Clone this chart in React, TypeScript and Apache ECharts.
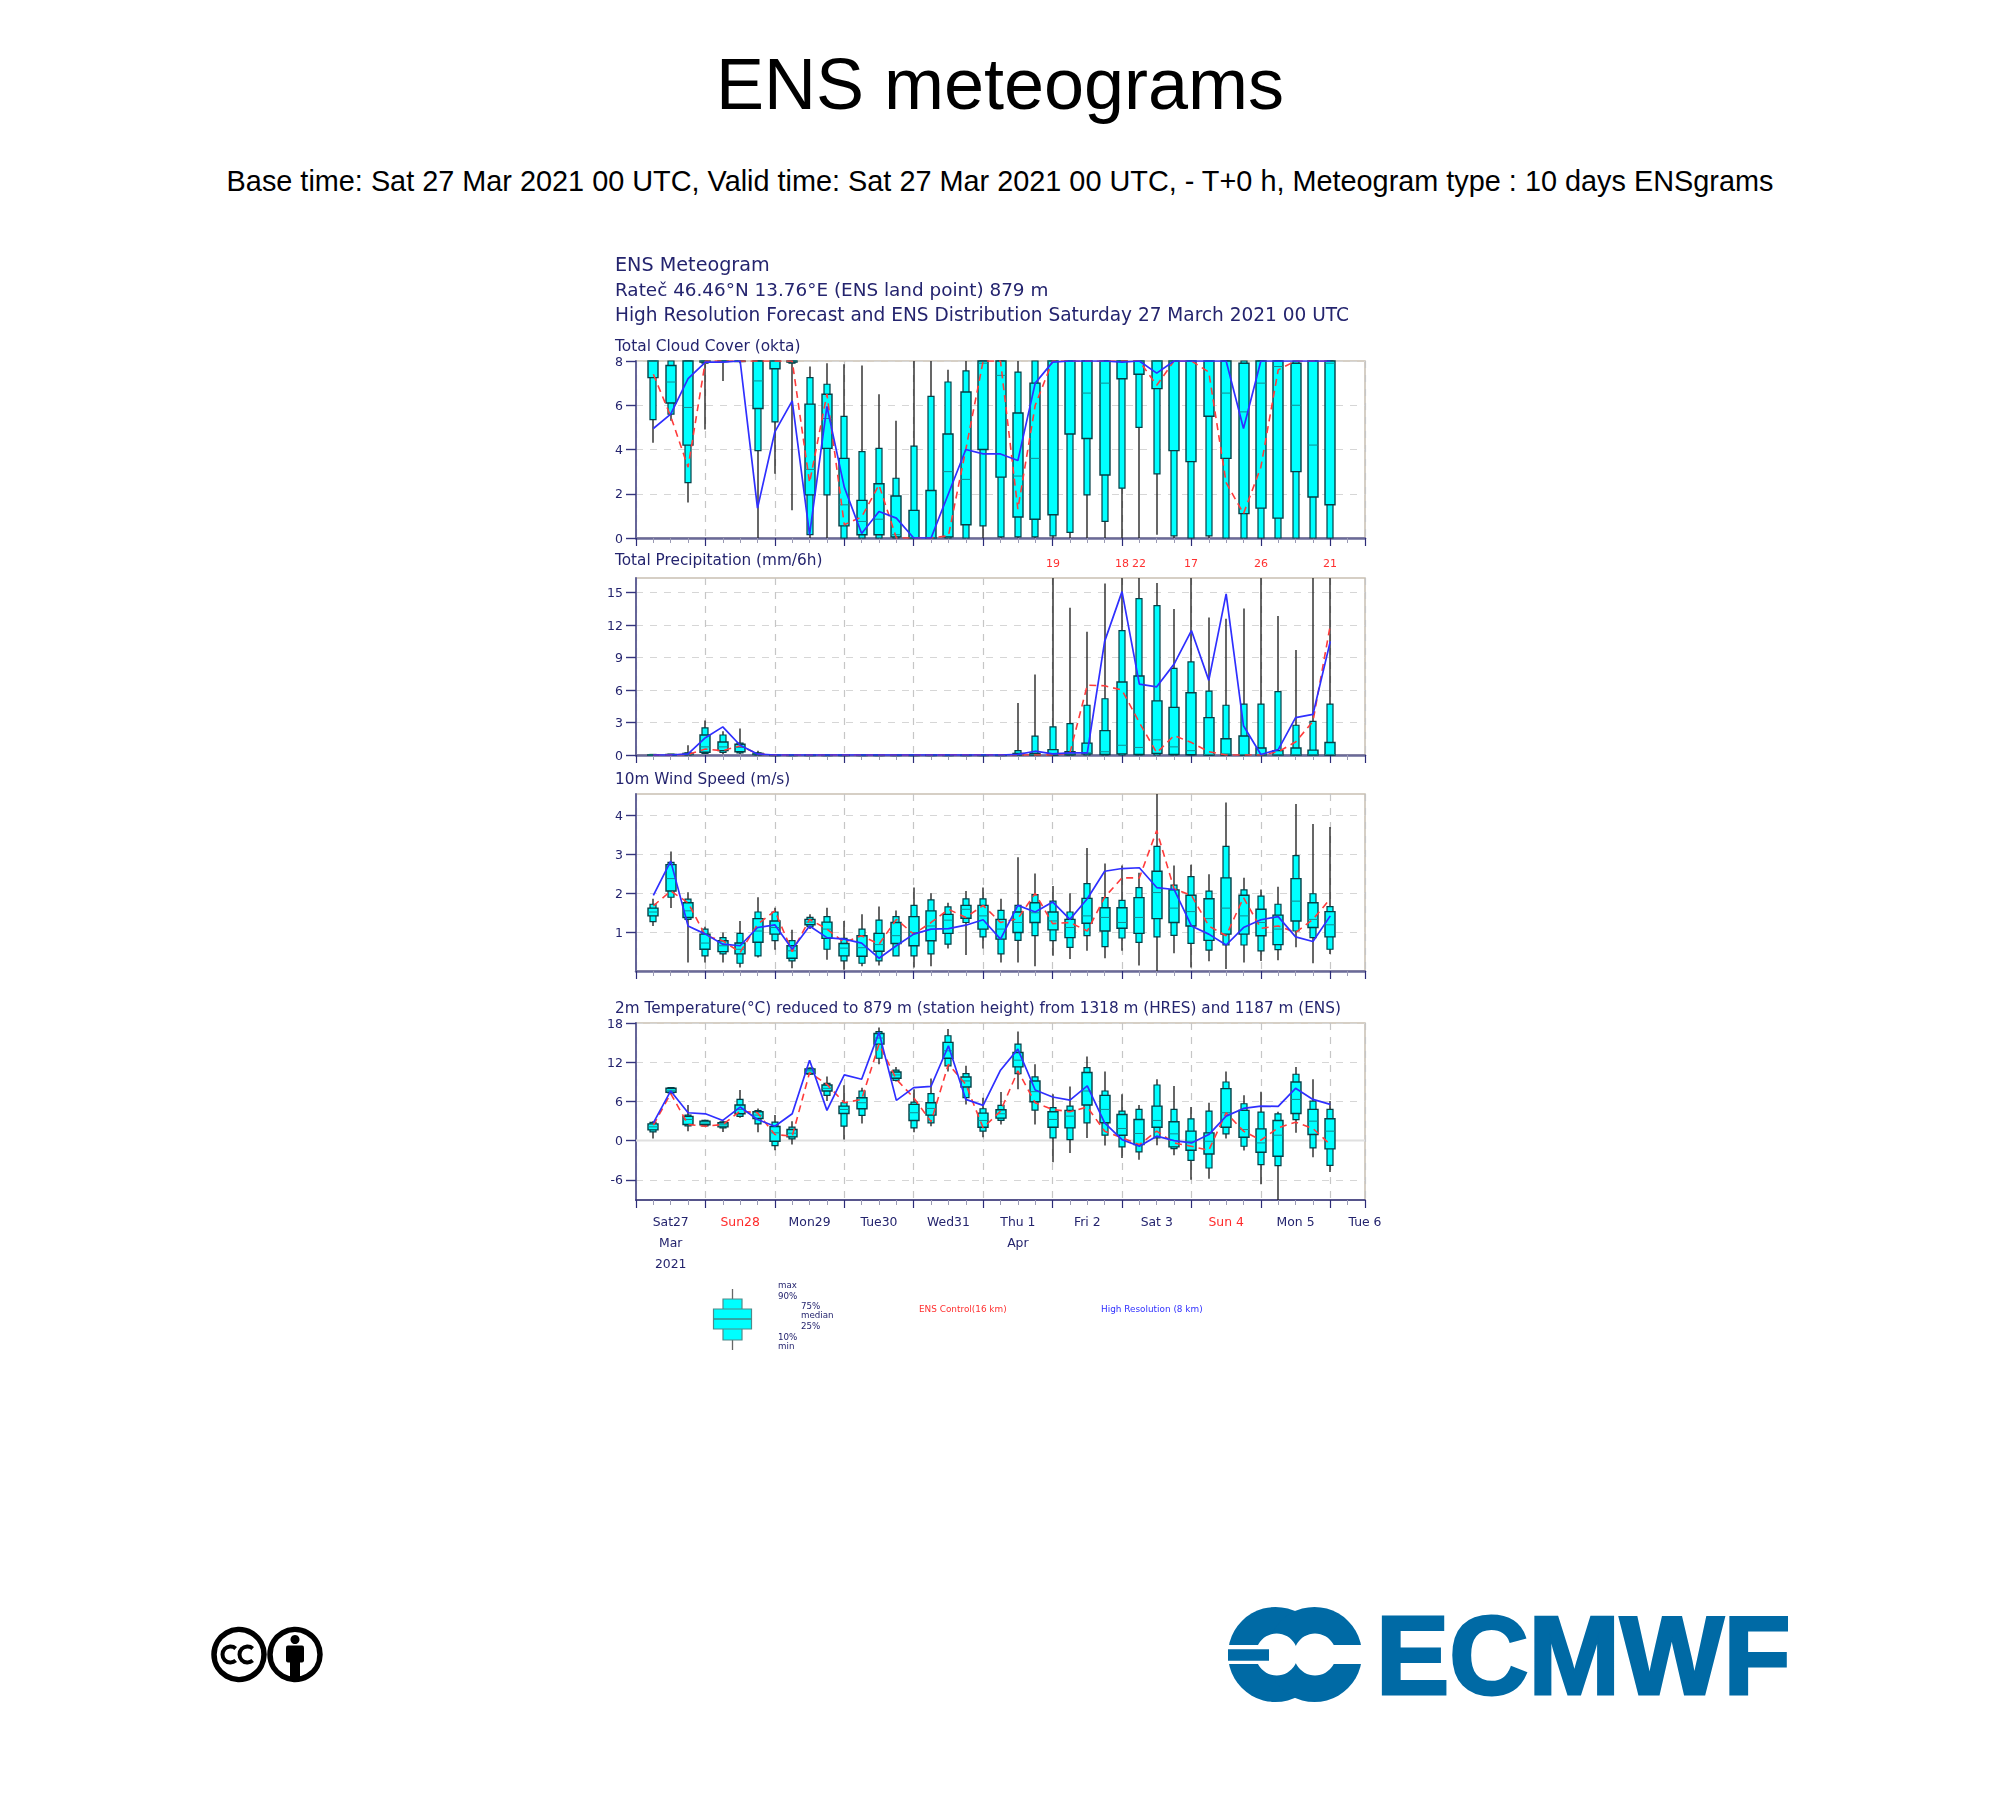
import React, { useEffect, useRef } from "react";
import * as echarts from "echarts";

// Each box: [min, p10, p25, median, p75, p90, max]
const forecastHours = [6,12,18,24,30,36,42,48,54,60,66,72,78,84,90,96,102,108,114,120,126,132,138,144,150,156,162,168,174,180,186,192,198,204,210,216,222,228,234,240];

const cloudBoxes = [
[4.3,5.35,7.25,8,8,8,8],[5.3,5.6,6.1,7.05,7.8,8,8],[1.6,2.5,4.2,5.9,8,8,8],[4.9,7.9,7.95,8,8,8,8],[7.1,8,8,8,8,8,8],[7.9,8,8,8,8,8,8],[0,3.95,5.85,7.1,8,8,8],[2.9,5.25,7.65,8,8,8,8],[1.25,7.9,7.95,8,8,8,8],
[0,0.15,1.95,3.1,6.05,7.25,7.75],[0,1.95,4.05,5.4,6.5,6.95,7.9],[0,0,0.55,1.5,3.6,5.5,7.85],[0,0,0.15,0.75,1.7,3.9,7.8],[0,0,0.15,0.85,2.45,4.05,6.5],[0,0,0.05,0.15,1.9,2.7,5.3],[0,0,0,0,1.25,4.15,8],[0,0,0,0,2.15,6.4,8],[0,0,0.05,3,4.7,7.05,7.6],[0,0,0.6,2.65,6.6,7.55,8],[0,0.55,4,7.9,8,8,8],
[0,0.05,2.75,7.35,8,8,8],[0,0.05,0.95,2.8,5.65,7.5,8],[0,0.05,0.85,3.6,7,8,8],[0,0.1,1.05,8,8,8,8],[0,0.25,4.7,8,8,8,8],[0,1.95,4.5,6.55,8,8,8],[0,0.75,2.85,7,8,8,8],[0,2.25,7.2,8,8,8,8],[0,5,7.4,8,8,8,8],[0.15,2.9,6.75,8,8,8,8],
[0,0.1,3.95,8,8,8,8],[0,0,3.45,8,8,8,8],[0,0.1,5.5,8,8,8,8],[0,0,3.6,6.55,8,8,8],[0,0,1.1,5.7,7.9,8,8],[0,0,1.35,7,8,8,8],[0,0,0.9,7.75,8,8,8],[0,0,3,6,7.9,8,8],[0,0,1.85,4.2,8,8,8],[0,0,1.5,7.9,8,8,8],
];
const cloudHres = [4.95,5.6,7.2,7.95,7.95,8,1.35,4.8,6.2,0.15,5.95,2.3,0.2,1.2,0.9,0,0,2,4,3.8,3.8,3.5,7,7.95,8,8,8,7.95,8,7.45,8,8,8,8,4.95,8,8,8,8,8];
const cloudControl = [7.4,5.5,3.2,8,8,8,8,8,8,2.5,6.5,0.6,0.95,2.4,0,0,0,0.1,4,8,8,1.3,6,8,8,8,8,8,8,6.9,8,8,7.5,2.5,1.1,3.2,7.6,8,8,8];

const precipBoxes = [
[0,0,0,0,0.02,0.05,0.05],[0,0,0,0.02,0.05,0.08,0.1],[0,0.02,0.05,0.08,0.15,0.2,0.9],[0.1,0.15,0.25,0.75,1.85,2.5,3.2],[0.1,0.25,0.4,0.75,1.2,1.85,2.2],[0.1,0.2,0.3,0.7,1,1.1,2.45],[0,0.02,0.05,0.1,0.15,0.2,0.4],[0,0,0,0,0,0,0],[0,0,0,0,0,0,0],[0,0,0,0,0,0,0],[0,0,0,0,0,0,0],[0,0,0,0,0,0,0],[0,0,0,0,0,0,0],[0,0,0,0,0,0,0],[0,0,0,0,0,0,0],[0,0,0,0,0,0,0],[0,0,0,0,0,0,0],[0,0,0,0,0,0,0],[0,0,0,0,0,0,0],[0,0,0,0,0,0,0],[0,0,0,0,0,0,0],
[0,0,0,0.02,0.15,0.4,4.8],[0,0,0,0.02,0.15,1.75,7.45],[0,0,0,0.1,0.5,2.6,19],[0,0,0.02,0.1,0.3,2.9,13.6],[0,0,0.1,0.2,1.1,4.6,11.4],[0,0,0.05,0.3,2.25,5.2,15.85],[0,0,0.1,0.9,6.75,11.5,18],[0,0,0.05,0.7,7.3,14.45,22],[0,0,0.15,1.4,5,13.8,15.9],[0,0,0.05,0.75,4.4,8,13.5],[0,0,0.02,0.4,5.75,8.6,17],[0,0,0,0.05,3.45,5.9,12.7],[0,0,0,0.1,1.5,4.6,12.6],[0,0,0,0.05,1.75,4.7,13.55],[0,0,0,0.02,0.65,4.7,26],[0,0,0,0.02,0.4,5.85,12.85],[0,0,0,0.02,0.65,2.75,9.7],[0,0,0,0.02,0.45,3.1,16.4],[0,0,0,0.05,1.15,4.7,21],
];
const precipHres = [0,0,0.1,1.6,2.6,0.9,0.1,0,0,0,0,0,0,0,0,0,0,0,0,0,0,0.05,0.35,0.1,0.2,0.2,10.5,15.1,6.55,6.3,8.4,11.5,6.9,14.9,2.7,0.05,0.5,3.45,3.75,10.5];
const precipControl = [0,0,0.05,0.55,0.4,0.85,0.1,0,0,0,0,0,0,0,0,0,0,0.02,0.02,0.02,0.02,0,0,0,0.2,6.45,6.4,6,3,0.2,1.8,1.15,0.3,0,0,0,0.3,1.2,3.1,12];

const windBoxes = [
[1.16,1.27,1.42,1.52,1.62,1.72,1.86],[1.62,1.9,2.06,2.38,2.74,2.8,3.08],[0.22,1.33,1.38,1.55,1.76,1.85,2.03],[0.22,0.39,0.56,0.72,0.95,1.08,1.14],[0.22,0.44,0.5,0.65,0.78,0.86,0.99],[0.09,0.2,0.44,0.56,0.72,0.97,1.29],[0.35,0.39,0.74,1.03,1.35,1.52,1.9],[0.55,0.78,0.95,1.12,1.29,1.52,1.63],[0.07,0.26,0.33,0.52,0.65,0.78,1.06],[1.08,1.14,1.19,1.26,1.33,1.38,1.46],
[0.29,0.56,0.84,1.08,1.26,1.4,1.63],[0.03,0.26,0.39,0.59,0.71,0.84,1.29],[0.12,0.2,0.38,0.6,0.91,1.08,1.46],[0.14,0.26,0.51,0.68,0.97,1.31,1.66],[0.39,0.39,0.71,0.91,1.25,1.4,1.56],[0.09,0.39,0.65,0.99,1.4,1.69,2.15],[0.12,0.44,0.78,1.16,1.55,1.83,2],[0.58,0.69,0.97,1.31,1.46,1.65,1.76],[0.41,1.25,1.36,1.59,1.69,1.86,2.06],[0.58,0.88,1.08,1.42,1.69,1.86,2.15],
[0.22,0.44,0.82,1.08,1.33,1.56,1.86],[0.22,0.79,0.99,1.25,1.52,1.69,2.93],[0.12,0.91,1.25,1.5,1.76,1.97,2.51],[0.39,0.78,1.06,1.29,1.52,1.8,2.19],[0.31,0.61,0.86,1.12,1.33,1.52,2],[0.52,0.91,1.23,1.42,1.87,2.25,3.17],[0.33,0.63,1.03,1.38,1.63,1.89,2.77],[0.52,0.85,1.1,1.25,1.63,1.82,2.72],[0.14,0.74,0.97,1.38,1.89,2.15,2.53],[0,0.88,1.35,2.02,2.57,3.21,4.56],
[0.46,0.92,1.25,1.62,2.09,2.21,2.72],[0.09,0.71,1.16,1.53,1.95,2.43,2.74],[0.25,0.54,0.79,1.35,1.86,2.06,2.49],[0.05,0.67,0.95,1.62,2.4,3.21,4.34],[0.22,0.67,0.95,1.42,1.95,2.09,2.4],[0.26,0.52,0.91,1.25,1.59,1.93,2.1],[0.28,0.55,0.68,1.08,1.44,1.72,2.17],[0.61,1.03,1.29,1.8,2.38,2.97,4.3],[0.2,0.86,1.12,1.33,1.76,1.99,3.79],[0.44,0.56,0.88,1.19,1.53,1.66,3.71],
];
const windHres = [1.95,2.83,1.16,0.95,0.69,0.65,1.12,1.19,0.56,1.16,0.86,0.82,0.72,0.33,0.65,0.95,1.08,1.09,1.18,1.32,0.82,1.69,1.52,1.78,1.33,1.86,2.57,2.64,2.66,2.15,2.1,1.16,0.95,0.67,1.12,1.32,1.4,0.88,0.76,1.42];
const windControl = [1.68,2.06,1.76,0.91,0.78,0.48,1.2,1.55,0.5,1.33,1.08,0.74,0.91,0.69,1.33,0.95,1.25,1.59,1.38,1.69,1.25,1.35,2,1.22,1.25,1.03,1.9,2.4,2.4,3.62,2.12,1.95,1.16,0.91,1.89,1.1,1.16,0.99,1.33,1.86];

const tempBoxes = [
[0.31,1.33,1.64,2.1,2.56,2.8,2.97],[7.08,7.3,7.4,7.7,8,8.1,8.2],[1.44,2.26,2.46,3.23,3.7,3.9,5.44],[2.15,2.26,2.41,2.67,2.97,3.08,3.18],[1.33,1.95,2.1,2.41,2.72,2.87,3.08],[3.5,3.7,4.1,4.77,5.44,6.3,7.74],[1.28,2.56,3.38,3.9,4.41,4.6,4.9],[-1.49,-0.77,-0.1,1.18,2.15,2.82,3.9],[-0.62,0.26,0.56,1.13,1.69,2.05,2.97],[10.05,10.15,10.26,10.67,10.97,11.08,11.18],
[6.05,6.92,7.59,8,8.51,8.77,9.79],[0.15,2.2,4.15,4.77,5.28,5.79,8.46],[2.62,3.85,4.87,5.79,6.56,7.59,8.1],[11.7,12.6,14.77,15.7,16.4,16.67,17.3],[9.03,9.23,9.54,10.05,10.5,10.77,11.28],[1.28,1.95,3.08,4.26,5.54,5.9,7.85],[2.2,2.72,3.9,4.92,5.79,7.18,9.49],[10.56,11.44,12.6,13.74,15.03,16.05,17.08],[5.54,6.56,8.2,9.13,9.74,10.26,11.44],[0.51,1.44,2.05,3.08,4.2,4.87,6.56],
[2.46,3.08,3.44,4.1,4.72,5.38,7.44],[7.85,10.26,11.28,12.31,13.49,14.77,16.7],[2.46,4.67,5.95,7.49,9.13,9.74,11.7],[-3.33,0.41,2.05,3.23,4.41,5.03,7.08],[-1.9,0.15,1.95,3.74,4.62,5.28,8.26],[0.41,2.72,5.44,7.59,10.41,11.18,12.87],[-0.77,0.82,2.72,4.77,6.92,7.59,10.56],[-2.67,-0.97,0.82,1.85,4,4.51,7.08],[-2.92,-1.74,-0.62,1.08,3.23,4.77,5.44],[-0.72,0.41,2.05,3.08,5.28,8.51,9.38],
[-2.26,-1.23,-0.97,1.03,2.87,4.77,8.36],[-6,-3.03,-1.49,-0.1,1.44,3.33,5.13],[-5.85,-4.2,-2.05,-0.1,1.18,4.51,5.79],[0.31,1.03,2.05,4.26,7.95,8.97,10.56],[-1.54,-0.87,0.51,1.69,4.62,5.64,6.92],[-6.67,-3.69,-1.79,-0.36,1.79,4.36,7.49],[-9.1,-3.85,-2.41,0.82,3.08,4.1,4.4],[1.18,3.2,4.15,6.3,8.97,10.15,11.28],[-2.56,-1.13,0.92,2.97,4.77,6.05,9.38],[-4.82,-3.8,-1.28,1.44,3.33,4.77,6.05],
];
const tempHres = [2.72,7.6,4.26,4.1,3.08,5.13,3.23,2.2,4.1,12.31,4.62,10.05,9.38,16.56,6.15,8.1,8.31,14.51,6.3,5.38,10.77,14,7.74,6.67,6.2,8.36,2.72,0.15,-0.87,0.67,0,-0.36,0.92,3.74,4.92,5.28,5.23,8,6.3,5.54];
const tempControl = [2.36,7.2,2.46,2.2,2.46,4.5,4.26,0.92,0.67,10.41,8.6,5.79,6.3,14.77,9.38,6.56,2.87,11.7,8.6,1.95,4.5,10.67,5.79,4.77,4.41,5.13,1.44,0.41,-0.62,1.44,-0.36,-0.87,-1.49,4.26,1.44,0.05,1.95,2.82,1.85,-0.62];
const zeroLine = [[0, 0], [252, 0]];

const cloudTicks = [0, 2, 4, 6, 8];
const precipTicks = [0, 3, 6, 9, 12, 15];
const windTicks = [1, 2, 3, 4];
const tempTicks = [-6, 0, 6, 12, 18];

const dayLabels = ["Sat27", "Sun28", "Mon29", "Tue30", "Wed31", "Thu 1", "Fri 2", "Sat 3", "Sun 4", "Mon 5", "Tue 6"];
const subLabels: Record<string, string[]> = { Sat27: ["Mar", "2021"], "Thu 1": ["Apr"] };
const sundayLabels = ["Sun28", "Sun 4"];
const panelTitles = ["Total Cloud Cover (okta)", "Total Precipitation (mm/6h)", "10m Wind Speed (m/s)", "2m Temperature(°C) reduced to 879 m (station height) from 1318 m (HRES) and 1187 m (ENS)"];
const headerLines = ["ENS Meteogram", "Rateč 46.46°N 13.76°E (ENS land point) 879 m", "High Resolution Forecast and ENS Distribution Saturday 27 March 2021 00 UTC"];

const NAVY = "#24246e";
const DV = "'DejaVu Sans'";
const LS = "'Liberation Sans'";
const PLEFT = 636;
const PWIDTH = 729;
const LOGO = "#006aa5";

const panels = [
  { top: 361, bottom: 538, min: 0, max: 8, ticks: cloudTicks, boxes: cloudBoxes, hres: cloudHres, ctrl: cloudControl, axisW: 2.5, axisC: "#6a6a98", titleY: 346, titleSize: 15.4 },
  { top: 578, bottom: 755, min: 0, max: 16.36, ticks: precipTicks, boxes: precipBoxes, hres: precipHres, ctrl: precipControl, axisW: 2.5, axisC: "#6a6a98", titleY: 560, titleSize: 15.3 },
  { top: 794, bottom: 971, min: 0, max: 4.56, ticks: windTicks, boxes: windBoxes, hres: windHres, ctrl: windControl, axisW: 2.5, axisC: "#6a6a98", titleY: 779, titleSize: 15.3 },
  { top: 1023, bottom: 1200, min: -9.1, max: 18, ticks: tempTicks, boxes: tempBoxes, hres: tempHres, ctrl: tempControl, axisW: 1.6, axisC: "#2c2c78", titleY: 1008, titleSize: 15.25 },
];

function renderBox(labelCounts: boolean) {
  return (params: any, api: any) => {
    const x = api.value(0);
    const vals = [1, 2, 3, 4, 5, 6, 7].map((i) => api.value(i));
    const cs = params.coordSys;
    const cx = Math.round(api.coord([x, 0])[0]);
    const yOf = (v: number) => Math.max(cs.y, Math.min(cs.y + cs.height, api.coord([x, v])[1]));
    const [mn, p10, p25, med, p75, p90, mx] = vals.map(yOf);
    const dark = "#063f46";
    const children: any[] = [
      { type: "line", shape: { x1: cx, y1: mx, x2: cx, y2: mn }, style: { stroke: "#262626", lineWidth: 1.4 } },
      { type: "rect", shape: { x: cx - 3, y: p90, width: 6, height: Math.max(p10 - p90, 0.5) }, style: { fill: "#00ffff", stroke: dark, lineWidth: 1.2 } },
      { type: "rect", shape: { x: cx - 5, y: p75, width: 10, height: Math.max(p25 - p75, 0.5) }, style: { fill: "#00ffff", stroke: dark, lineWidth: 1.4 } },
      { type: "line", shape: { x1: cx - 5, y1: med, x2: cx + 5, y2: med }, style: { stroke: "#138a90", lineWidth: 1 } },
    ];
    if (labelCounts && api.value(7) >= 17) {
      children.push({ type: "text", style: { text: String(api.value(7)), x: cx, y: cs.y - 15, fill: "#ff3030", font: `11px ${DV}`, align: "center", verticalAlign: "middle" } });
    }
    return { type: "group", children };
  };
}

function txt(text: string, x: number, y: number, size: number, fill = NAVY, family = DV, align = "left") {
  return { type: "text", silent: true, style: { text, x, y, fill, font: `${size}px ${family}`, align, verticalAlign: "middle" } };
}

function meteogramOption() {
  const grid: any[] = [], xAxis: any[] = [], yAxis: any[] = [], series: any[] = [];
  panels.forEach((p, k) => {
    grid.push({ left: PLEFT, width: PWIDTH, top: p.top, height: p.bottom - p.top, show: true, borderColor: "#c9c0b2", borderWidth: 1.5, backgroundColor: "#fff" });
    xAxis.push({
      type: "value", gridIndex: k, min: 0, max: 252, interval: 24,
      axisLine: { show: true, onZero: false, lineStyle: { color: p.axisC, width: p.axisW } },
      axisTick: { show: true, inside: false, length: 8, lineStyle: { color: "#2c2c78", width: 1.2 } },
      minorTick: { show: true, splitNumber: 4, length: 5, lineStyle: { color: "#9a9ab4", width: 1 } },
      axisLabel: { show: false },
      splitLine: { show: true, lineStyle: { color: "#c6c6c6", type: [7, 7], width: 1.2 } },
    });
    yAxis.push({
      type: "value", gridIndex: k, min: p.min, max: p.max,
      axisLine: { show: true, onZero: false, lineStyle: { color: "#5a5a94", width: 1.8 } },
      axisTick: { show: true, length: 10, customValues: p.ticks, lineStyle: { color: "#35357e", width: 1.4 } },
      axisLabel: { show: true, margin: 13, customValues: p.ticks, color: NAVY, fontFamily: DV, fontSize: 12.5 },
      splitLine: { show: true, customValues: p.ticks, lineStyle: { color: "#d6d6d6", type: [7, 7], width: 1.2 } },
    });
    if (k === 3) {
      series.push({ type: "line", xAxisIndex: k, yAxisIndex: k, data: zeroLine, showSymbol: false, silent: true, z: 1, lineStyle: { color: "#e0e0e0", width: 2 } });
    }
    const boxData = p.boxes.map((b, i) => [forecastHours[i], ...b]);
    series.push({ type: "custom", xAxisIndex: k, yAxisIndex: k, z: 2, data: boxData, encode: { x: 0, y: [1, 2, 3, 4, 5, 6, 7] }, renderItem: renderBox(k === 1) });
    series.push({ type: "line", xAxisIndex: k, yAxisIndex: k, z: 3, showSymbol: false, data: p.ctrl.map((v, i) => [forecastHours[i], v]), lineStyle: { color: "#ff3b3b", width: 1.6, type: [7, 5] } });
    series.push({ type: "line", xAxisIndex: k, yAxisIndex: k, z: 4, showSymbol: false, data: p.hres.map((v, i) => [forecastHours[i], v]), lineStyle: { color: "#2f2fff", width: 1.7 } });
  });
  xAxis.push({
    type: "value", gridIndex: 3, min: 0, max: 252, interval: 12, position: "bottom",
    axisLine: { show: false }, axisTick: { show: false }, splitLine: { show: false },
    axisLabel: {
      show: true, margin: 11, interval: 0, fontFamily: DV,
      formatter: (v: number) => {
        if (v % 24 !== 12) return "";
        const day = dayLabels[(v - 12) / 24];
        const style = sundayLabels.includes(day) ? "r" : "n";
        return [`{${style}|${day}}`, ...(subLabels[day] || []).map((s) => `{n|${s}}`)].join("\n");
      },
      rich: {
        n: { color: NAVY, fontFamily: DV, fontSize: 12.4, lineHeight: 21 },
        r: { color: "#ff2b2b", fontFamily: DV, fontSize: 12.4, lineHeight: 21 },
      },
    },
  });

  const gfx: any[] = [];
  const headerSizes = [19.2, 18.4, 18.55];
  headerLines.forEach((t, i) => gfx.push(txt(t, 615, 264.5 + i * 25.2, headerSizes[i])));
  panelTitles.forEach((t, i) => gfx.push(txt(t, 615, panels[i].titleY, panels[i].titleSize)));
  // legend glyph
  const lx = 732.5;
  gfx.push({ type: "line", shape: { x1: lx, y1: 1289, x2: lx, y2: 1350 }, style: { stroke: "#666", lineWidth: 1.3 } });
  gfx.push({ type: "rect", shape: { x: lx - 9.5, y: 1299, width: 19, height: 41 }, style: { fill: "#00ffff", stroke: "#508a8a", lineWidth: 1.2 } });
  gfx.push({ type: "rect", shape: { x: lx - 19, y: 1309, width: 38, height: 20 }, style: { fill: "#00ffff", stroke: "#508a8a", lineWidth: 1.2 } });
  gfx.push({ type: "line", shape: { x1: lx - 19, y1: 1319, x2: lx + 19, y2: 1319 }, style: { stroke: "#3e8a8a", lineWidth: 1.6 } });
  [["max", 778, 1285], ["90%", 778, 1296], ["75%", 801, 1306], ["median", 801, 1315], ["25%", 801, 1326], ["10%", 778, 1337], ["min", 778, 1346]].forEach((r) =>
    gfx.push(txt(r[0] as string, r[1] as number, r[2] as number, 8.7))
  );
  gfx.push(txt("ENS Control(16 km)", 919, 1309, 8.9, "#ff3030"));
  gfx.push(txt("High Resolution (8 km)", 1101, 1309, 8.9, "#3030ff"));

  return { animation: false, backgroundColor: "transparent", grid, xAxis, yAxis, series, graphic: { elements: gfx } };
}

function backgroundOption() {
  const cy = 1654.5, cCc = 239, cBy = 295;
  const arcC = (cx: number, r: number) => ({ type: "arc", shape: { cx, cy, r, startAngle: (-Math.PI * 2) / 8 * 1.1, endAngle: (Math.PI * 2) / 8 * 1.1, clockwise: false }, style: { stroke: "#000", lineWidth: 4, fill: "none" } });
  const blue = { fill: LOGO };
  const white = { fill: "#fff" };
  const gfx: any[] = [
    txt("ENS meteograms", 1000, 84, 72, "#000", LS, "center"),
    txt("Base time: Sat 27 Mar 2021 00 UTC, Valid time: Sat 27 Mar 2021 00 UTC, - T+0 h, Meteogram type : 10 days ENSgrams", 1000, 181, 28.85, "#000", LS, "center"),
    { type: "circle", shape: { cx: cCc, cy, r: 25 }, style: { fill: "#fff", stroke: "#000", lineWidth: 5.5 } },
    arcC(cCc - 8.5, 8), arcC(cCc + 8.5, 8),
    { type: "circle", shape: { cx: cBy, cy, r: 25 }, style: { fill: "#fff", stroke: "#000", lineWidth: 5.5 } },
    { type: "circle", shape: { cx: cBy, cy: cy - 15, r: 4.5 }, style: { fill: "#000" } },
    { type: "rect", shape: { x: cBy - 9, y: cy - 9, width: 18, height: 17, r: 2 }, style: { fill: "#000" } },
    { type: "rect", shape: { x: cBy - 5, y: cy + 5, width: 10, height: 19 }, style: { fill: "#000" } },
    { type: "circle", shape: { cx: 1275.5, cy: 1654.5, r: 47.5 }, style: blue },
    { type: "circle", shape: { cx: 1314.5, cy: 1654.5, r: 47.5 }, style: blue },
    { type: "rect", shape: { x: 1226, y: 1645, width: 50, height: 19 }, style: white },
    { type: "rect", shape: { x: 1315, y: 1645, width: 50, height: 19 }, style: white },
    { type: "circle", shape: { cx: 1276.7, cy: 1654.5, r: 21 }, style: white },
    { type: "circle", shape: { cx: 1315, cy: 1654.5, r: 21 }, style: white },
    { type: "rect", shape: { x: 1228, y: 1649.3, width: 41, height: 11.4 }, style: blue },
    { type: "text", x: 1376, y: 1655, scaleX: 0.98, silent: true, style: { text: "ECMWF", x: 0, y: 0, fill: LOGO, font: `bold 112px ${LS}`, align: "left", verticalAlign: "middle", stroke: LOGO, lineWidth: 3 } },
  ];
  return { animation: false, backgroundColor: "#fff", graphic: { elements: gfx } };
}

export default function App() {
  const bgRef = useRef<HTMLDivElement>(null);
  const chartRef = useRef<HTMLDivElement>(null);
  useEffect(() => {
    document.body.style.margin = "0";
    const bg = echarts.init(bgRef.current!, null, { renderer: "svg" });
    bg.setOption(backgroundOption());
    const chart = echarts.init(chartRef.current!, null, { renderer: "svg" });
    chart.setOption(meteogramOption());
    return () => {
      bg.dispose();
      chart.dispose();
    };
  }, []);
  return (
    <div style={{ position: "relative", width: 2000, height: 1800 }}>
      <div ref={bgRef} style={{ position: "absolute", left: 0, top: 0, width: 2000, height: 1800 }} />
      <div ref={chartRef} style={{ position: "absolute", left: 0, top: 0, width: 2000, height: 1800, filter: "blur(0.7px)" }} />
    </div>
  );
}
